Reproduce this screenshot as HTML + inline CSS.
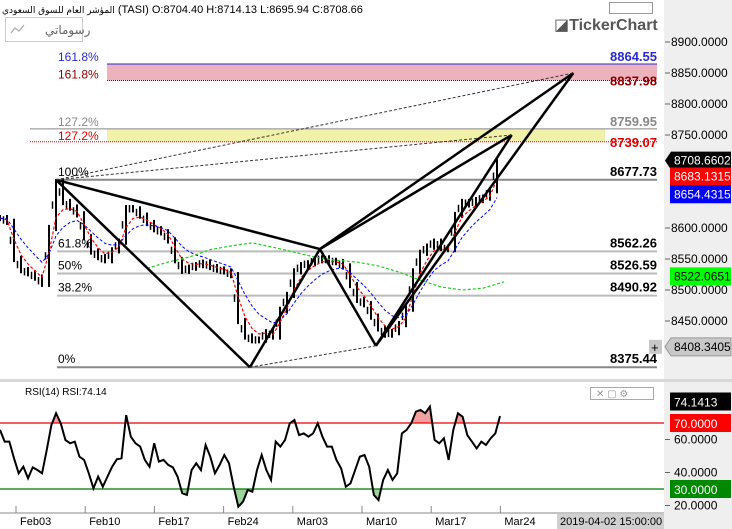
<!DOCTYPE html>
<html><head><meta charset="utf-8">
<style>
html,body{margin:0;padding:0;background:#fff;}
svg{display:block;font-family:"Liberation Sans","DejaVu Sans",sans-serif;}
</style></head>
<body>
<svg id="c" width="732" height="529" viewBox="0 0 732 529" xmlns="http://www.w3.org/2000/svg">
  <rect x="0" y="0" width="732" height="529" fill="#fff"/>
  <rect x="664" y="0" width="68" height="529" fill="#efefef"/>
  <rect x="0" y="513" width="664" height="16" fill="#fff"/>
  <line x1="0" y1="513" x2="664" y2="513" stroke="#888"/>
  <rect x="0" y="379" width="732" height="3" fill="#d8d8d8"/>
  <g id="fib"></g>
  <g id="main"></g>
  <g id="rsi"></g>
  <g id="axes"></g>

  <text x="2" y="13" font-size="11" fill="#000"><tspan font-family="'DejaVu Sans',sans-serif" font-size="9">المؤشر العام للسوق السعودي</tspan> (TASI) O:8704.40 H:8714.13 L:8695.94 C:8708.66</text>
  <rect x="5.5" y="17.5" width="77" height="24" fill="#fff" stroke="#ccc"/>
  <text x="45" y="34" font-size="12" fill="#666" font-family="'DejaVu Sans',sans-serif">رسوماتي</text>
  <polyline points="11,33 15,28 19,31 24,25" fill="none" stroke="#aaa" stroke-width="1.3"/>
  <rect x="609.5" y="2.5" width="43" height="11" fill="#fff" stroke="#999"/>
  <text x="554" y="30" font-size="16" font-weight="bold" fill="#555">◪TickerChart</text>
  <text x="25" y="395" font-size="10" fill="#000">RSI(14)  RSI:74.14</text>
  <rect x="590.5" y="387.5" width="63" height="12" fill="#fff" stroke="#aaa"/>
  <text x="596" y="397" font-size="10" fill="#999">✕  ▢  ⚙</text>
  <rect x="557" y="514" width="107" height="15" fill="#d0d0d0"/>
  <text x="560" y="525" font-size="11" fill="#000">2019-04-02 15:00:00</text>
</svg>
<script>
// ---- data ----
const closes = [8616,8610,8550,8532,8527,8520,8510,8600,8674,8642,8633,8622,8585,8562,8553,8548,8564,8578,8632,8630,8620,8608,8598,8593,8580,8548,8531,8536,8540,8544,8537,8533,8530,8524,8450,8425,8419,8420,8432,8425,8468,8492,8530,8540,8543,8548,8551,8547,8545,8538,8508,8484,8477,8457,8438,8428,8432,8445,8470,8530,8560,8570,8578,8568,8566,8621,8642,8638,8645,8649,8661,8706];
const longMA = [8535,8545,8553,8565,8571,8576,8569,8561,8553,8548,8545,8539,8529,8516,8505,8500,8503,8513];
const longMAStart = 21;
const rsiValues = [65.8,58.7,58.7,48.6,39.5,43.5,36.5,43.1,41.5,39.5,53.6,68.8,75.9,69.8,59.7,57.7,58.7,49.6,47.6,39.5,30.4,37.5,31.4,37.5,43.5,48.0,48.6,74.8,61.7,57.7,55.7,47.6,43.5,57.7,46.6,47.6,44.6,43.1,37.5,27.4,26.4,41.5,45.6,41.5,56.7,49.6,39.5,44.6,50.6,45.6,31.4,19.3,22.3,29.4,28.4,41.5,50.6,41.5,35.5,58.7,55.7,59.7,69.8,71.8,62.7,63.7,61.7,63.7,69.8,61.7,55.7,55.7,47.6,42.5,31.4,33.4,41.5,49.6,50.6,43.5,26.4,23.3,35.5,41.5,35.5,39.5,63.7,65.8,69.8,76.9,77.9,75.9,79.9,59.7,57.7,60.7,47.6,65.8,75.9,73.8,62.7,58.7,54.6,58.7,56.7,60.7,63.7,74.2];
const priceTicks = [8900,8850,8800,8750,8600,8550,8500,8450];
const rsiTicks = [60,40,20];
const rsiLevels = [70,30];
const dateLabels = ["Feb03","Feb10","Feb17","Feb24","Mar03","Mar10","Mar17","Mar24"];
const fibLevels = [8677.73,8562.26,8526.59,8490.92,8375.44];
const fibNames = ["100%","61.8%","50%","38.2%","0%"];
const extLevels = [8864.55,8837.98,8759.95,8739.07];
const extNames = ["161.8%","161.8%","127.2%","127.2%"];
const extColors = ["#2a2ad0","#8b0000","#888","#e00000"];
const pivotBars = [8,35.7,45.7,53.7];
const pivotPrices = [8677.73,8375.44,8566,8410];
const targetBars = [81.9,73.1];
const targetPrices = [8850,8750];
const tags = [["8708.6602","#000","#fff",8708.66],["8683.1315","#f00","#fff",8683.13],["8654.4315","#00f","#fff",8654.43],["8522.0651","#0f0","#000",8522.07],["8408.3405","#c8c8c8","#000",8408.34]];

// ---- scales ----
const NS="http://www.w3.org/2000/svg";
const py = p => 42 + (8900 - p) * 0.62;
const bx = i => i * 7;
const rx = i => i * 4.673;
const ry = v => 423 + (70 - v) * 1.65;
const dx = k => 16 + k * 69.2;
function mk(parent, tag, attrs){const e=document.createElementNS(NS,tag);for(const k in attrs)e.setAttribute(k,attrs[k]);parent.appendChild(e);return e;}
const main=document.getElementById('main'), fib=document.getElementById('fib'), rsi=document.getElementById('rsi'), axes=document.getElementById('axes');

let b1=mk(fib,'rect',{x:107,y:py(extLevels[0]),width:550,height:py(extLevels[1])-py(extLevels[0]),fill:'#e8a0ad',opacity:0.8});


let b2=mk(fib,'rect',{x:107,y:py(extLevels[2]),width:498,height:py(extLevels[3])-py(extLevels[2]),fill:'#f0f0a0',opacity:0.9});


extLevels.forEach((v,i)=>{
  const l=mk(fib,'line',{x1:i<2?107:30,x2:657,y1:py(v),y2:py(v),stroke:extColors[i],'stroke-width':1,'stroke-dasharray':(i%2)?'1,1':''});
  
  
  const t=mk(fib,'text',{x:58,y:py(v)+(i%2?-2:-3),'font-size':12,fill:extColors[i]});
  t.textContent=extNames[i];
  
  
  const t2=mk(fib,'text',{x:657,y:py(v)+(i%2?5:-3),'font-size':13,'font-weight':'bold','text-anchor':'end',fill:extColors[i]});
  t2.textContent=v.toFixed(2);
  
  
});
fibLevels.forEach((v,i)=>{
  const l=mk(fib,'line',{x1:57,x2:657,y1:py(v),y2:py(v),stroke:i==0||i==4?'#888':'#bbb','stroke-width':2});
  
  
  const t=mk(fib,'text',{x:58,y:py(v)-4,'font-size':12,fill:'#000'});
  t.textContent=fibNames[i];
  
  
  const t2=mk(fib,'text',{x:657,y:py(v)-4,'font-size':13,'font-weight':'bold','text-anchor':'end',fill:'#000'});
  t2.textContent=v.toFixed(2);
  
  
});

closes.forEach((c,i)=>{
  const p = i? closes[i-1]:c;
  const hi=Math.max(p,c)+5, lo=Math.min(p,c)-5;
  const l=mk(main,'line',{x1:bx(i),x2:bx(i),y1:py(hi),y2:py(lo),stroke:'#000','stroke-width':2});
  
  
  if(i){const m=mk(main,'line',{x1:bx(i)-3.5,x2:bx(i)-3.5,y1:py((p+c)/2+6),y2:py((p+c)/2-6),stroke:'#000','stroke-width':1.5});
  
  }
});
function ema(arr,n){const a=2/(n+1);let out=[],e=arr[0];arr.forEach(v=>{e=a*v+(1-a)*e;out.push(e);});return out;}
const red=ema(closes,3), blue=ema(closes,7);
let pr=mk(main,'polyline',{points:red.map((v,i)=>bx(i)+','+py(v)).join(' '),fill:'none',stroke:'#f00','stroke-width':1.2,'stroke-dasharray':'3,2'});


let pb=mk(main,'polyline',{points:blue.map((v,i)=>bx(i)+','+py(v)).join(' '),fill:'none',stroke:'#00f','stroke-width':1,'stroke-dasharray':'3,2'});


let pg=mk(main,'polyline',{points:longMA.map((v,k)=>bx(longMAStart+3*k)+','+py(v)).join(' '),fill:'none',stroke:'#2c2','stroke-width':1.2,'stroke-dasharray':'3,2'});



const P=pivotBars.map((b,i)=>[bx(b),py(pivotPrices[i])]);
const T=targetBars.map((b,i)=>[bx(b),py(targetPrices[i])]);
const thick=[[P[0],P[1]],[P[1],P[2]],[P[0],P[2]],[P[2],P[3]],[P[2],T[0]],[P[2],T[1]],[P[3],T[0]],[P[3],T[1]]];
thick.forEach(s=>{const l=mk(main,'line',{x1:s[0][0],y1:s[0][1],x2:s[1][0],y2:s[1][1],stroke:'#000','stroke-width':2.5});

});
const thin=[[P[0],T[0]],[P[0],T[1]],[P[1],P[3]]];
thin.forEach(s=>{const l=mk(main,'line',{x1:s[0][0],y1:s[0][1],x2:s[1][0],y2:s[1][1],stroke:'#333','stroke-width':1,'stroke-dasharray':'3,2'});

});

priceTicks.forEach(v=>{
  const l=mk(axes,'line',{x1:665,x2:670,y1:py(v),y2:py(v),stroke:'#666'});
  
  
  const t=mk(axes,'text',{x:671,y:py(v)+4,'font-size':12,fill:'#000'});
  t.textContent=v.toFixed(4);
  
  
});
tags.forEach((g,i)=>{
  const y=py(g[3]);
  const r=mk(axes,'path',{d:i==0||i==4?`M665,${y} L671,${y-9} H731 V${y+9} H671 Z`:`M670,${y-9} H731 V${y+9} H670 Z`,fill:g[1],stroke:i==4?'#999':'none'});
  
  
  const t=mk(axes,'text',{x:674,y:y+4,'font-size':12,fill:g[2]});
  t.textContent=g[0];
  
  
});
let plus=mk(axes,'rect',{x:649,y:py(8408.34)-7,width:13,height:14,fill:'#c8c8c8'});


let pt=mk(axes,'text',{x:651,y:py(8408.34)+5,'font-size':13,fill:'#000'});pt.textContent='+';



const defs=mk(rsi,'defs',{});
const c1=mk(defs,'clipPath',{id:'above'});mk(c1,'rect',{x:0,y:380,width:664,height:ry(70)-380});
const c2=mk(defs,'clipPath',{id:'below'});mk(c2,'rect',{x:0,y:ry(30),width:664,height:40});
const pts=rsiValues.map((v,i)=>rx(i)+','+ry(v)).join(' ');
const last=rx(rsiValues.length-1);
let fa=mk(rsi,'polygon',{points:'0,'+ry(70)+' '+pts+' '+last+','+ry(70),fill:'#f4a0a0','clip-path':'url(#above)'});


let fb=mk(rsi,'polygon',{points:'0,'+ry(30)+' '+pts+' '+last+','+ry(30),fill:'#9cd49c','clip-path':'url(#below)'});


rsiLevels.forEach((v,i)=>{
  const l=mk(rsi,'line',{x1:0,x2:664,y1:ry(v),y2:ry(v),stroke:i?'#070':'#e00','stroke-width':1.2});
  
  
});
let rl=mk(rsi,'polyline',{points:pts,fill:'none',stroke:'#000','stroke-width':2});


rsiTicks.forEach(v=>{
  const l=mk(axes,'line',{x1:665,x2:670,y1:ry(v),y2:ry(v),stroke:'#666'});
  
  
  const t=mk(axes,'text',{x:674,y:ry(v)+4,'font-size':12,fill:'#000'});
  t.textContent=v.toFixed(4);
  
  
});
[["74.1413","#000","#fff",74.14],["70.0000","#f00","#fff",70],["30.0000","#080","#fff",30]].forEach((g,i)=>{
  const y=i==0?401.5:ry(g[3]);
  const r=mk(axes,'rect',{x:670,y:y-9,width:61,height:18,fill:g[1]});
  
  
  const t=mk(axes,'text',{x:674,y:y+5,'font-size':12,fill:g[2]});
  t.textContent=g[0];
  
  
});

dateLabels.forEach((d,k)=>{
  const l=mk(axes,'line',{x1:dx(k),x2:dx(k),y1:506,y2:513,stroke:'#888'});
  
  
  const t=mk(axes,'text',{x:dx(k)+4,y:525,'font-size':11,fill:'#000'});
  t.textContent=d;
  
  
});
</script>
</body></html>
